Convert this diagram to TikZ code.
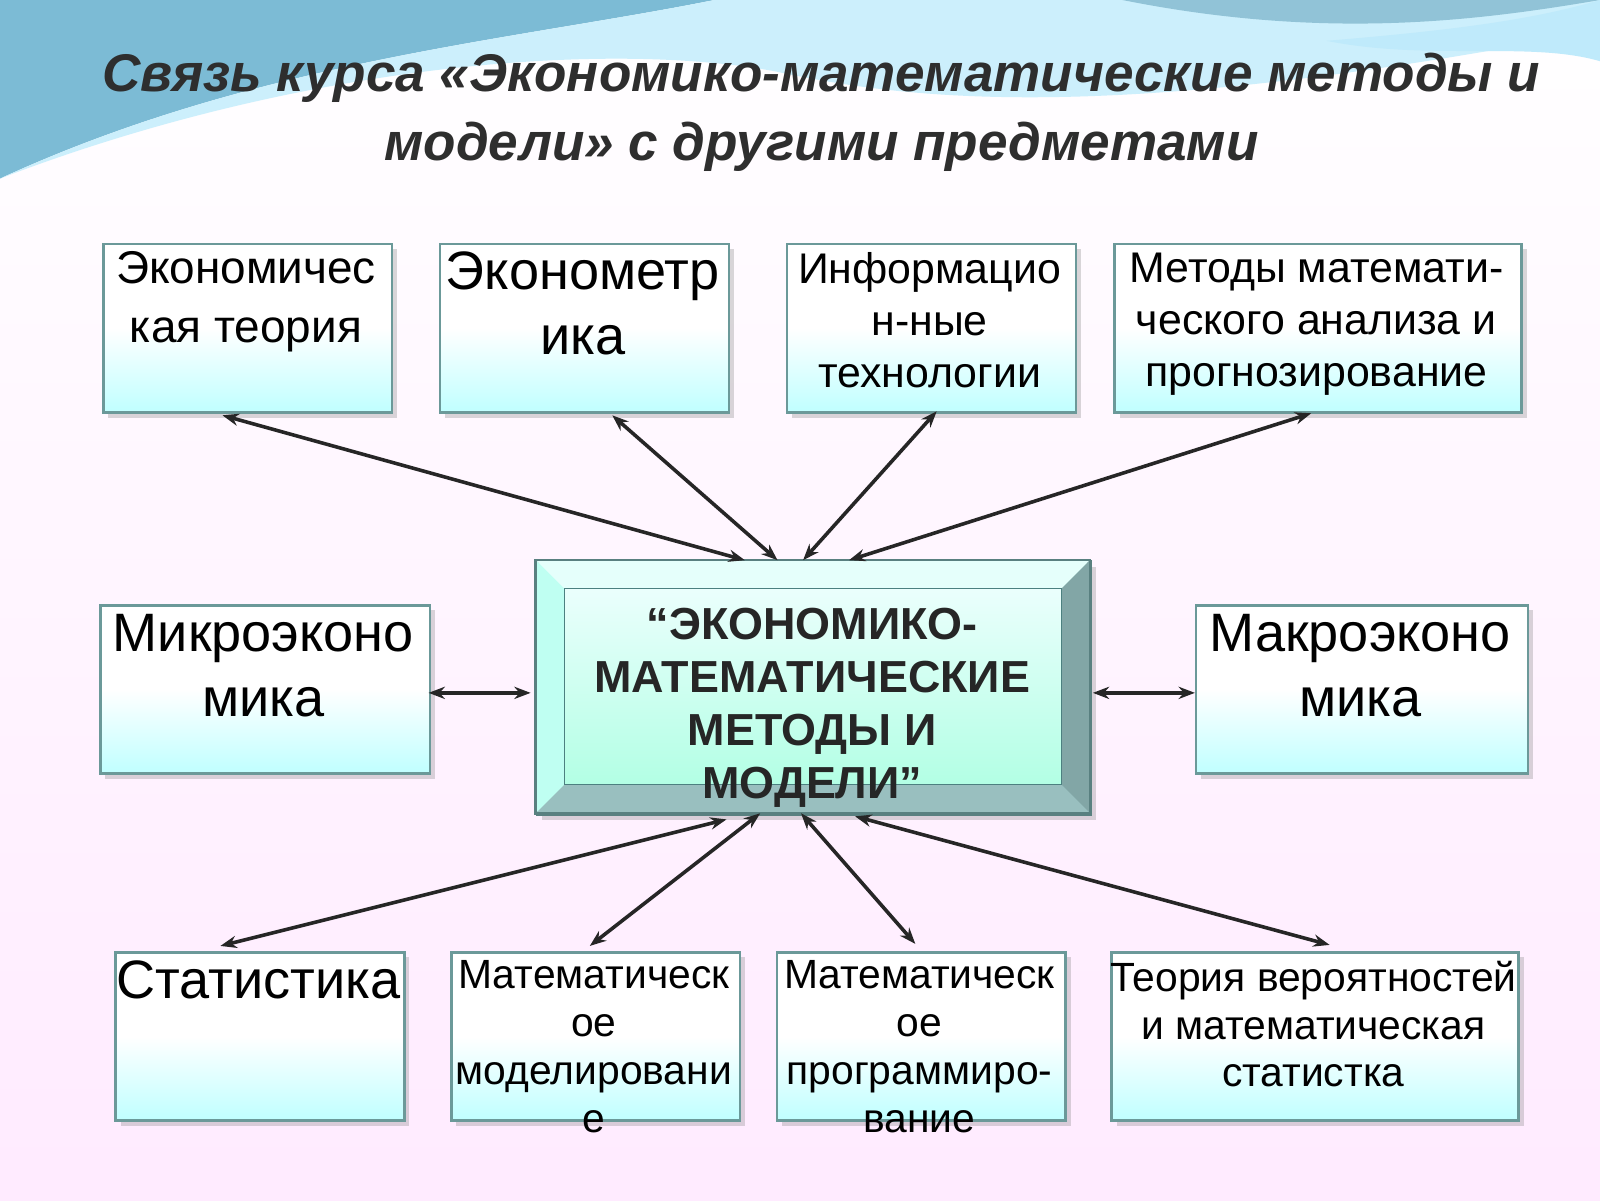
\documentclass[tikz,border=0pt]{standalone}
\usepackage{fontspec}
\setmainfont{Liberation Sans}
\usetikzlibrary{shadows,arrows.meta}
\begin{document}
\begin{tikzpicture}[x=1pt,y=-1pt,
 box/.style={draw=teal!45!gray!80,line width=2.5pt,top color=white,bottom color=cyan!25,middle color=white,shading angle=0,drop shadow={shadow xshift=5pt,shadow yshift=-5pt,opacity=0.3},align=center,inner sep=0pt},
 arr/.style={{Stealth[length=16pt,width=12pt]}-{Stealth[length=16pt,width=12pt]},line width=3.5pt,black!85}]
\useasboundingbox (0,0) rectangle (1568,1176);
\shade[top color=white,bottom color=magenta!8] (0,0) rectangle (1568,1176);
\fill[cyan!45!teal!60] (0,0) -- (700,0) .. controls (500,40) and (250,60) .. (0,175) -- cycle;
\fill[cyan!20] (0,175) .. controls (300,60) and (600,40) .. (760,70) .. controls (900,100) and (1100,120) .. (1568,30) -- (1568,0) -- (700,0) .. controls (500,40) and (250,60) .. (0,175);
\fill[cyan!35!teal!50] (1100,0) .. controls (1300,40) and (1450,20) .. (1568,0) -- cycle;
\fill[cyan!25] (1568,0) -- (1568,60) .. controls (1500,40) and (1400,60) .. (1300,40) .. controls (1420,30) and (1500,20) .. (1568,0);
\node[font=\fontsize{52}{68}\selectfont\bfseries\itshape,text=black!82,align=center] (title) at (805,110) {Связь курса «Экономико-математические методы и\\модели» с другими предметами};
% boxes
\node[box,minimum width=283,minimum height=165,anchor=north west] (b1) at (100,238) {};
\node[font=\fontsize{45}{58}\selectfont,align=center,anchor=north] at (241,243) {Экономичес\\кая теория};
\node[box,minimum width=283,minimum height=165,anchor=north west] (b2) at (430,238) {};
\node[font=\fontsize{53}{64}\selectfont,align=center,anchor=north] at (571,243) {Эконометр\\ика};
\node[box,minimum width=283,minimum height=165,anchor=north west] (b3) at (770,238) {};
\node[font=\fontsize{42}{51}\selectfont,align=center,anchor=north] at (911,244) {Информацио\\н-ные\\технологии};
\node[box,minimum width=399,minimum height=165,anchor=north west] (b4) at (1091,238) {};
\node[font=\fontsize{42}{51}\selectfont,align=center,anchor=north] at (1290,244) {Методы математи-\\ческого анализа и\\прогнозирование};
\node[box,minimum width=323,minimum height=165,anchor=north west] (b5) at (97,592) {};
\node[font=\fontsize{53}{64}\selectfont,align=center,anchor=north] at (258,598) {Микроэконо\\мика};
\node[box,minimum width=325,minimum height=165,anchor=north west] (b7) at (1171,592) {};
\node[font=\fontsize{53}{64}\selectfont,align=center,anchor=north] at (1333,598) {Макроэконо\\мика};
\node[box,minimum width=283,minimum height=165,anchor=north west] (b8) at (112,932) {};
\node[font=\fontsize{53}{64}\selectfont,align=center,anchor=north] at (253,938) {Статистика};
\node[box,minimum width=283,minimum height=165,anchor=north west] (b9) at (441,932) {};
\node[font=\fontsize{40}{47}\selectfont,align=center,anchor=north] at (582,938) {Математическ\\ое\\моделировани\\е};
\node[box,minimum width=283,minimum height=165,anchor=north west] (b10) at (760,932) {};
\node[font=\fontsize{40}{47}\selectfont,align=center,anchor=north] at (901,938) {Математическ\\ое\\программиро-\\вание};
\node[box,minimum width=399,minimum height=165,anchor=north west] (b11) at (1088,932) {};
\node[font=\fontsize{40}{47}\selectfont,align=center,anchor=north] at (1287,938) {Теория вероятностей\\и математическая\\статистка};
% center bevel box
\node[draw=gray!70!teal,line width=2.5pt,minimum width=543,minimum height=248,anchor=north west,fill=green!25!cyan!20,drop shadow={shadow xshift=5pt,shadow yshift=-5pt,opacity=0.3},inner sep=0pt] (c) at (525,549) {};
\fill[green!15!cyan!10] (525,549) -- (1068,549) -- (1040,577) -- (553,577) -- cycle;
\fill[green!20!cyan!25!white] (525,549) -- (553,577) -- (553,769) -- (525,797) -- cycle;
\fill[gray!60!teal!70] (1068,549) -- (1068,797) -- (1040,769) -- (1040,577) -- cycle;
\fill[gray!40!teal!50] (525,797) -- (1068,797) -- (1040,769) -- (553,769) -- cycle;
\shade[top color=green!12!cyan!8,bottom color=green!35!cyan!30] (553,577) rectangle (1040,769);
\draw[gray!70!teal,line width=2.5pt] (525,549) rectangle (1068,797);
\draw[gray!60!teal,line width=1pt] (553,577) rectangle (1040,769);
\node[font=\fontsize{44}{52}\selectfont\bfseries,align=center,text=black!85] (ct) at (796,694) {“ЭКОНОМИКО-\\МАТЕМАТИЧЕСКИЕ\\МЕТОДЫ И\\МОДЕЛИ”};
% arrows
\coordinate (c1) at (730,549); \coordinate (c2) at (762,549); \coordinate (c3) at (787,549); \coordinate (c4) at (832,549);
\coordinate (c5) at (520,679); \coordinate (c6) at (1071,679);
\coordinate (c7) at (712,803); \coordinate (c8) at (745,797); \coordinate (c9) at (785,797); \coordinate (c10) at (838,800);
\coordinate (e1) at (218,407); \coordinate (e2) at (600,407); \coordinate (e3) at (918,403); \coordinate (e4) at (1285,405);
\coordinate (e5) at (420,679); \coordinate (e6) at (1171,679);
\coordinate (e7) at (216,927); \coordinate (e8) at (578,927); \coordinate (e9) at (897,925); \coordinate (e10) at (1303,926);
\foreach \i in {1,...,10} \draw[arr] (e\i) -- (c\i);
\end{tikzpicture}
\end{document}
